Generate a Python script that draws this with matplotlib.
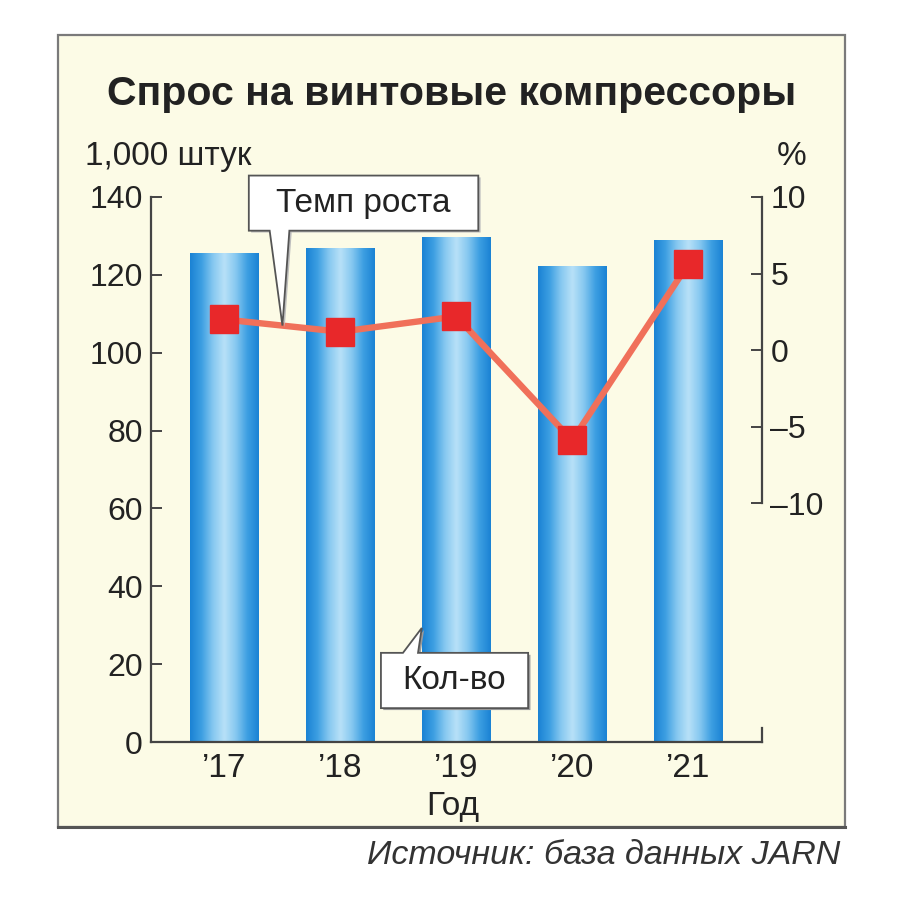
import numpy as np
import matplotlib
matplotlib.use("Agg")
import matplotlib.pyplot as plt
from matplotlib.patches import Rectangle, Polygon
from matplotlib.colors import LinearSegmentedColormap

plt.rcParams['font.family'] = ['Liberation Sans', 'DejaVu Sans']

# ---- data ----
years = ["’17", "’18", "’19", "’20", "’21"]
demand = [125.5, 127.0, 129.7, 122.4, 129.0]      # 1,000 units
growth = [2.0, 1.2, 2.2, -5.9, 5.6]                # %
left_ticks = [0, 20, 40, 60, 80, 100, 120, 140]
right_ticks = [-10, -5, 0, 5, 10]
right_labels = ["–10", "–5", "0", "5", "10"]

title = "Спрос на винтовые компрессоры"
left_unit = "1,000 штук"
right_unit = "%"
xlabel = "Год"
source = "Источник: база данных JARN"
line_label = "Темп роста"
bar_label = "Кол-во"

# ---- style ----
W, H = 900, 900
cream = "#FCFBE6"
txt = "#222222"
spine_c = "#444444"
FS = 24
TFS = 23

fig = plt.figure(figsize=(9, 9), dpi=100)
fig.patch.set_facecolor("white")

def fx(px):
    return px / W

def fy(py):
    return 1 - py / H

# panel box
panel = Rectangle((fx(58), fy(827)), fx(845) - fx(58), fy(35) - fy(827),
                  transform=fig.transFigure, facecolor=cream, edgecolor="#7a7a7a",
                  lw=1.6, zorder=-5)
fig.patches.append(panel)
fig.add_artist(plt.Line2D([fx(58), fx(845)], [fy(827), fy(827)], transform=fig.transFigure,
                          color="#555555", lw=2.2, zorder=-4))

ax = fig.add_axes([fx(151), fy(742), fx(762) - fx(151), fy(197) - fy(742)])
ax.set_facecolor("none")
x = np.arange(len(years))

# gradient bars
cmap = LinearSegmentedColormap.from_list(
    "cyl", ["#1A82D4", "#3D9FE2", "#86C8F0", "#B8E1F8", "#86C8F0", "#3D9FE2", "#1A82D4"])
grad = np.linspace(0, 1, 256).reshape(1, -1)
bw = 0.595
bars = ax.bar(x, demand, width=bw, color="none", edgecolor="none", zorder=2)
for b in bars:
    x0, y0 = b.get_x(), b.get_y()
    im = ax.imshow(grad, cmap=cmap, aspect="auto",
                   extent=[x0, x0 + b.get_width(), y0, y0 + b.get_height()],
                   zorder=2, interpolation="bicubic")
    im.set_clip_path(b)
ax.set_xlim(-0.634, 4.638)
ax.set_ylim(0, 140)

ax.spines["top"].set_visible(False)
ax.spines["right"].set_visible(False)
for s in ("left", "bottom"):
    ax.spines[s].set_color(spine_c)
    ax.spines[s].set_linewidth(1.6)
ax.set_yticks(left_ticks)
ax.set_yticklabels([str(t) for t in left_ticks])
ax.tick_params(axis="y", direction="in", length=8, width=1.4, color=spine_c,
               labelsize=TFS, labelcolor=txt, pad=6)
ax.set_xticks(x)
ax.set_xticklabels(years)
ax.tick_params(axis="x", length=0, labelsize=FS, labelcolor=txt, pad=8)
# small end tick at bottom right
ax.plot([1, 1], [0, 0.026], transform=ax.transAxes, color=spine_c, lw=1.6,
        clip_on=False, zorder=3)

# right axis
ax2 = ax.twinx()
ax2.set_ylim(-25.6, 10)
ax2.set_facecolor("none")
for s in ("top", "left", "bottom"):
    ax2.spines[s].set_visible(False)
ax2.spines["right"].set_bounds(-10, 10)
ax2.spines["right"].set_color(spine_c)
ax2.spines["right"].set_linewidth(1.6)
ax2.set_yticks(right_ticks)
ax2.set_yticklabels(right_labels)
ax2.tick_params(axis="y", direction="in", length=8, width=1.4, color=spine_c,
                labelsize=TFS, labelcolor=txt, pad=6)

ax2.plot(x, growth, color="#F0705A", lw=4.6, zorder=4, solid_joinstyle="miter")
ax2.plot(x, growth, linestyle="none", marker="s", markersize=20.5,
         markerfacecolor="#E8282A", markeredgecolor="#E8282A", zorder=5)

# callout: growth rate
tip_x = 0.50
tip_y = growth[0] + (growth[1] - growth[0]) * tip_x
bx0, bx1, by0, by1 = 0.21, 2.19, 7.8, 11.4
poly = [(bx0, by1), (bx1, by1), (bx1, by0), (0.56, by0), (tip_x, tip_y),
        (0.39, by0), (bx0, by0)]
ax2.add_patch(Polygon([(px + 0.02, py - 0.12) for px, py in poly], closed=True,
                      facecolor="#bdbdbd", edgecolor="none", zorder=6, clip_on=False))
ax2.add_patch(Polygon(poly, closed=True, facecolor="white", edgecolor="#555555",
                      lw=1.3, zorder=7, clip_on=False, joinstyle="miter"))
ax2.text((bx0 + bx1) / 2, (by0 + by1) / 2, line_label, ha="center", va="center",
         fontsize=FS, color=txt, zorder=8)

# callout: quantity
kx0, kx1, ky0, ky1 = 1.35, 2.62, 8.7, 22.9
ktip = (2 - bw / 2, 29.3)
kpoly = [(kx0, ky1), (1.54, ky1), ktip, (1.67, ky1), (kx1, ky1), (kx1, ky0), (kx0, ky0)]
ax.add_patch(Polygon([(px + 0.02, py - 0.5) for px, py in kpoly], closed=True,
                     facecolor="#9a9a9a", edgecolor="none", zorder=6))
ax.add_patch(Polygon(kpoly, closed=True, facecolor="white", edgecolor="#555555",
                     lw=1.3, zorder=7, joinstyle="miter"))
ax.text((kx0 + kx1) / 2, (ky0 + ky1) / 2, bar_label, ha="center", va="center",
        fontsize=FS, color=txt, zorder=8)

# texts
fig.text(fx(452), fy(105), title, ha="center", va="baseline", fontsize=29.5,
         fontweight="bold", color=txt)
fig.text(fx(85), fy(165), left_unit, ha="left", va="baseline", fontsize=FS, color=txt)
fig.text(fx(792), fy(165), right_unit, ha="center", va="baseline", fontsize=FS, color=txt)
fig.text(fx(453), fy(815), xlabel, ha="center", va="baseline", fontsize=FS, color=txt)
fig.text(fx(840), fy(864), source, ha="right", va="baseline", fontsize=24.5,
         style="italic", color="#333333")

fig.savefig("out.png", dpi=100, facecolor="white")
